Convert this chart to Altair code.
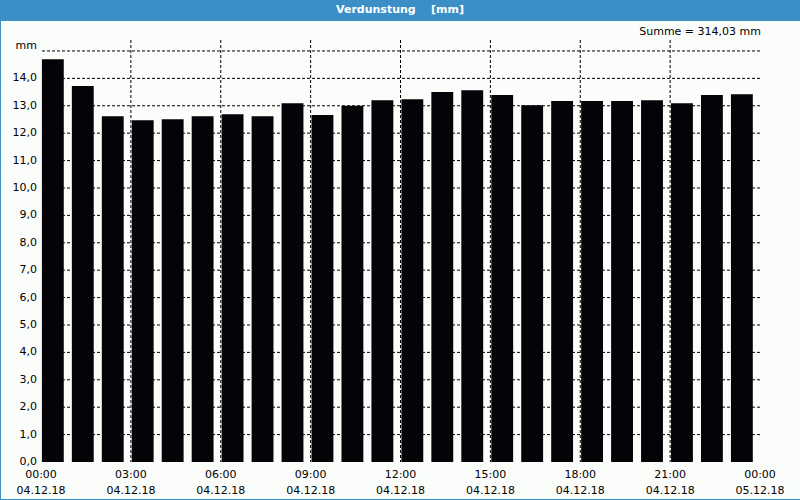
import altair as alt
import pandas as pd

hours = list(range(24))
values = [14.70, 13.72, 12.62, 12.47, 12.51, 12.62, 12.69, 12.62, 13.09, 12.66,
          13.00, 13.20, 13.24, 13.50, 13.57, 13.39, 13.02, 13.17, 13.17, 13.17,
          13.20, 13.09, 13.39, 13.42]
y_grid = list(range(1, 16))
y_labels = list(range(0, 15))
x_grid = [3, 6, 9, 12, 15, 18, 21]
x_ticks = list(range(25))
time_labels = ["00:00", "03:00", "06:00", "09:00", "12:00", "15:00", "18:00", "21:00", "00:00"]
date_labels = ["04.12.18"] * 8 + ["05.12.18"]
title_text = "Verdunstung\u00a0\u00a0\u00a0\u00a0[mm]"
sum_text = "Summe = 314,03 mm"
unit_text = "mm"

W, H = 719, 422
BLUE = "#3c8fc6"
BG = "#fbfdfb"
FONT = "DejaVu Sans"

df = pd.DataFrame({"h": hours, "v": values})
df["x0"] = df["h"] + 0.03
df["x1"] = df["h"] + 0.76

lab = pd.DataFrame({"h": [3 * i for i in range(9)], "t": time_labels, "d": date_labels})
ylab = pd.DataFrame({"y": y_labels, "t": [f"{v:.1f}".replace(".", ",") for v in y_labels]})

xs = alt.Scale(domain=[0, 24], nice=False, zero=False)
ys = alt.Scale(domain=[0, 15.4], nice=False, zero=True)

frame = alt.Chart(pd.DataFrame({"a": [0]})).mark_rect(color=BG).encode(
    x=alt.value(-40), x2=alt.value(W + 40), y=alt.value(-19), y2=alt.value(H + 37))
titlebar = alt.Chart(pd.DataFrame({"a": [0]})).mark_rect(color=BLUE).encode(
    x=alt.value(-41), x2=alt.value(W + 40), y=alt.value(-40), y2=alt.value(-19))
title = alt.Chart(pd.DataFrame({"t": [title_text]})).mark_text(
    font=FONT, fontSize=11, fontWeight="bold", color="white", align="center", baseline="middle"
).encode(x=alt.value(359), y=alt.value(-30), text="t:N")

bars = alt.Chart(df).mark_rect(color="#050308").encode(
    x=alt.X("x0:Q", scale=xs, axis=alt.Axis(
        values=x_ticks, labels=False, grid=False, domain=False, ticks=True,
        tickSize=4, tickColor="black", title=None, zindex=1)),
    x2="x1:Q",
    y=alt.Y("v:Q", scale=ys, axis=None),
    y2=alt.datum(0),
)

hgrid = alt.Chart(pd.DataFrame({"y": y_grid})).mark_rule(
    color="black", strokeDash=[3, 2], strokeWidth=1).encode(y=alt.Y("y:Q", scale=ys, axis=None))
vgrid = alt.Chart(pd.DataFrame({"x": x_grid})).mark_rule(
    color="black", strokeDash=[3, 2], strokeWidth=1).encode(x=alt.X("x:Q", scale=xs, axis=None))

ytext = alt.Chart(ylab).mark_text(font=FONT, fontSize=11, color="black", align="right",
                                  baseline="middle").encode(
    x=alt.value(-4), y=alt.Y("y:Q", scale=ys, axis=None), text="t:N")

tlab = alt.Chart(lab).mark_text(font=FONT, fontSize=11, color="black", baseline="middle").encode(
    x=alt.X("h:Q", scale=xs, axis=None), y=alt.value(H + 13), text="t:N")
dlab = alt.Chart(lab).mark_text(font=FONT, fontSize=11, color="black", baseline="middle").encode(
    x=alt.X("h:Q", scale=xs, axis=None), y=alt.value(H + 29), text="d:N")

summ = alt.Chart(pd.DataFrame({"t": [sum_text]})).mark_text(
    font=FONT, fontSize=11, color="black", align="right", baseline="middle"
).encode(x=alt.value(W + 1), y=alt.value(-8), text="t:N")
unit = alt.Chart(pd.DataFrame({"t": [unit_text]})).mark_text(
    font=FONT, fontSize=11, color="black", align="right", baseline="middle"
).encode(x=alt.value(-4), y=alt.value(6), text="t:N")

border = alt.Chart(pd.DataFrame({"a": [0]})).mark_rule(color=BLUE, strokeWidth=1).encode(
    x=alt.value(-40.5), y=alt.value(-40), y2=alt.value(H + 38))
border2 = alt.Chart(pd.DataFrame({"a": [0]})).mark_rule(color=BLUE, strokeWidth=1).encode(
    x=alt.value(-41), x2=alt.value(W + 40), y=alt.value(H + 37.5))

chart = alt.layer(frame, titlebar, title, border, border2, hgrid, vgrid, bars,
                  ytext, tlab, dlab, summ, unit).properties(
    width=W, height=H,
    padding={"left": 41, "top": 40, "right": 40, "bottom": 38},
    autosize=alt.AutoSizeParams(type="none"),
    background=BLUE,
).configure_view(stroke="black", strokeWidth=1).configure_axis(labelFont=FONT)

chart.save("out.html", embed_options={"renderer": "svg", "actions": False})
